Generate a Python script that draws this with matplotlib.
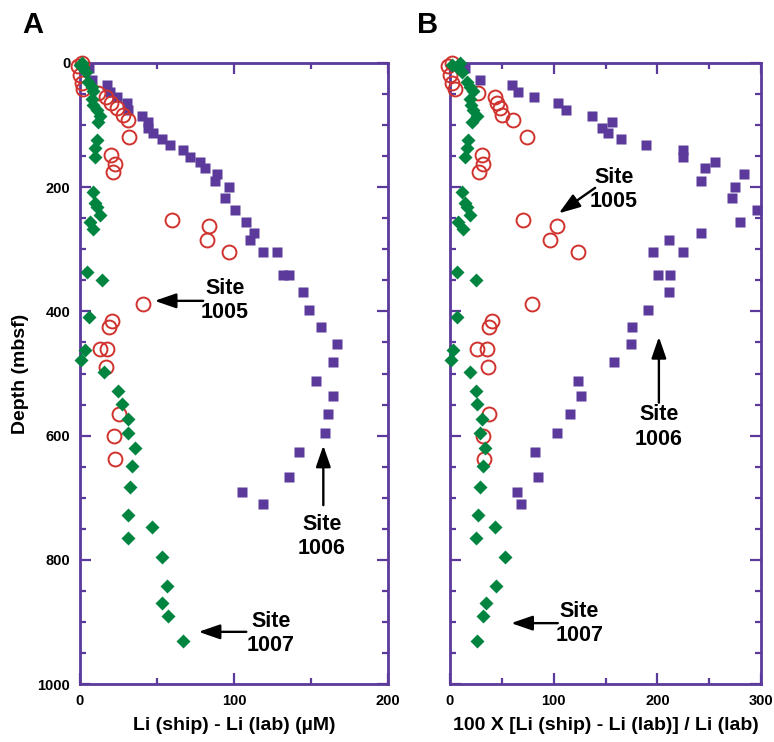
import numpy as np
import matplotlib
matplotlib.use('Agg')
from matplotlib import pyplot as plt

plt.rcParams['font.family'] = ['Liberation Sans', 'DejaVu Sans']
plt.rcParams['font.weight'] = 'bold'

# Site 1005 (open red circles)
depth_1005 = [0, 5, 20, 32, 42, 49, 55, 65, 73, 84, 92, 119, 148, 162, 176,
              253, 262, 285, 305, 388, 415, 425, 460, 460, 490, 565, 601, 638]
li_1005 = [1, -1, 0, 1, 2, 12, 17, 20, 24, 28, 31, 32, 20, 23, 21.5,
           60, 84, 82.5, 97, 41, 21, 19, 13, 17.5, 17, 25, 22, 22.5]
pct_1005 = [2, -2, 0, 2, 5, 27, 43, 45, 48, 50, 61, 74, 31, 32, 28,
            70, 103, 96, 123, 79, 40.5, 38, 26, 36, 37, 38, 32, 33]

# Site 1006 (purple squares)
depth_1006 = [8, 27, 35, 46, 55, 65, 76, 85, 95, 104, 113, 123, 132, 140, 151,
              159, 169, 178, 190, 199, 217, 236, 256, 273, 285, 304, 304, 341,
              341, 369, 398, 425, 453, 482, 512, 537, 565, 596, 626, 666, 691, 710]
li_1006 = [6, 8, 17.5, 19.5, 24, 30.5, 31, 40, 44, 44, 47.5, 53, 58.5, 67, 71.5,
           78, 81, 89, 87.5, 96.5, 94, 100.5, 108, 113, 110.5, 119, 128, 132,
           136, 145, 149, 156.5, 167, 164, 153, 164, 161, 159, 142, 136, 105, 119]
pct_1006 = [14.5, 29, 60, 66, 81, 104, 112, 137, 156, 146.5, 152, 165, 189, 225, 225,
            256, 246, 284, 242, 275, 272, 296, 280, 242, 211, 196, 225, 200.5,
            212, 211, 191, 175.5, 174.5, 158, 123, 126, 116, 103, 82, 85, 65, 68.5]

# Site 1007 (green diamonds)
depth_1007 = [0, 3, 6, 14, 30, 38, 45, 58, 68, 76, 85, 95, 124, 137, 151,
              207, 226, 232, 245, 256, 268, 337, 350, 409, 462, 478, 498, 528,
              549, 573, 596, 620, 649, 682, 728, 747, 765, 795, 842, 869, 890, 930]
li_1007 = [1, 0, 2, 4, 5, 7.5, 8.5, 8, 8.5, 11, 13, 12, 11, 10, 10,
           8.5, 10, 11, 13, 6.5, 8.5, 4.5, 14, 6, 3, 0.5, 15.5, 24.5,
           27, 31, 31, 36, 34, 32.5, 31, 47, 31, 53, 56.5, 53, 57, 67]
pct_1007 = [10, 2, 6.5, 12, 16, 19, 22, 19, 20, 22, 26, 21, 17.5, 16, 14.5,
            11.5, 14.5, 16, 19, 7.5, 12.5, 6.5, 25, 6.5, 3, 1, 19, 25,
            26, 31, 29, 34, 32, 29, 27, 43, 25, 53, 44, 35, 32, 26]

purple = '#5b3a9b'
red = '#d0322e'
green = '#00843f'

fig = plt.figure(figsize=(7.74, 7.42), dpi=100)
axA = fig.add_axes([80/774, 1-684/742, 308/774, 621/742])
axB = fig.add_axes([450/774, 1-684/742, 311/774, 621/742])


def style(ax, xmax):
    ax.set_xlim(0, xmax)
    ax.set_ylim(1000, 0)
    for s in ax.spines.values():
        s.set_color(purple)
        s.set_linewidth(2)
    ax.set_xticks(np.arange(0, xmax+1, 100))
    ax.set_xticks(np.arange(0, xmax+1, 50), minor=True)
    ax.set_yticks(np.arange(0, 1001, 200))
    ax.set_yticks(np.arange(0, 1001, 50), minor=True)
    ax.tick_params(which='both', direction='in', top=True, right=True,
                   color=purple, width=1.6, labelsize=10.5, pad=7)
    ax.tick_params(which='major', length=8)
    ax.tick_params(which='minor', length=4.5)
    for lab in ax.get_xticklabels() + ax.get_yticklabels():
        lab.set_fontweight('bold')


def draw(ax, x1005, x1006, x1007):
    ax.plot(x1006, depth_1006, 's', color=purple, ms=7.5, mec='none', clip_on=False, zorder=3)
    ax.plot(x1005, depth_1005, 'o', mfc='none', mec=red, ms=10, mew=1.4, clip_on=False, zorder=4)
    ax.plot(x1007, depth_1007, 'D', color=green, ms=7, mec='none', clip_on=False, zorder=5)


def arrow(ax, xy, xytext):
    ax.annotate('', xy=xy, xytext=xytext,
                arrowprops=dict(arrowstyle='-|>,head_length=1.3,head_width=0.45',
                                color='black', lw=1.7, shrinkA=0, shrinkB=0))


style(axA, 200)
style(axB, 300)
draw(axA, li_1005, li_1006, li_1007)
draw(axB, pct_1005, pct_1006, pct_1007)
axB.set_yticklabels([])

txt = dict(ha='center', va='center', fontsize=15.5, fontweight='bold')

# Panel A annotations
arrow(axA, (48.5, 383), (80, 383))
axA.text(94, 383, 'Site\n1005', **txt)
arrow(axA, (158, 616), (158, 712))
axA.text(157, 763, 'Site\n1006', **txt)
arrow(axA, (77, 916), (108, 916))
axA.text(124, 919, 'Site\n1007', **txt)

# Panel B annotations
arrow(axB, (105, 242), (140, 201))
axB.text(158, 204, 'Site\n1005', **txt)
arrow(axB, (201.5, 441), (201.5, 547))
axB.text(201.5, 586, 'Site\n1006', **txt)
arrow(axB, (59, 902), (104, 902))
axB.text(125, 903, 'Site\n1007', **txt)

axA.set_xlabel('Li (ship) - Li (lab) (\u00b5M)', fontsize=14, fontweight='bold', labelpad=7)
axB.set_xlabel('100 X [Li (ship) - Li (lab)] / Li (lab)', fontsize=14, fontweight='bold', labelpad=7)
axA.set_ylabel('Depth (mbsf)', fontsize=14, fontweight='bold', labelpad=6)

fig.text(33/774, 1-25/742, 'A', fontsize=21, fontweight='bold', ha='center', va='center')
fig.text(428/774, 1-25/742, 'B', fontsize=21, fontweight='bold', ha='center', va='center')

fig.savefig('out.png', dpi=100)
